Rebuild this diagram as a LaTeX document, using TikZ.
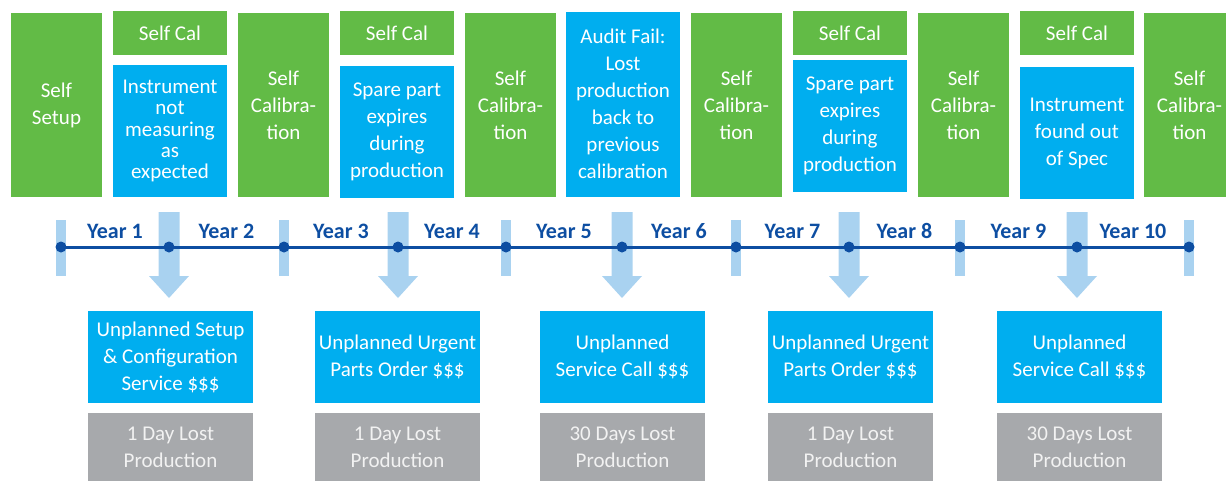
\documentclass[tikz,border=0pt]{standalone}
\usepackage{fontspec}
\setmainfont{Carlito}
\usetikzlibrary{calc}
\definecolor{cgreen}{HTML}{62BB46}
\definecolor{cblue}{HTML}{00AEEF}
\definecolor{cgrey}{HTML}{A7A9AC}
\definecolor{clight}{HTML}{A9D2F0}
\definecolor{cdark}{HTML}{0D4EA2}
\definecolor{cpale}{HTML}{F2F2F2}
\begin{document}
\begin{tikzpicture}[x=1pt,y=-1pt,
  box/.style={rectangle, inner sep=0pt, align=center, text=white, font=\fontsize{21}{27}\selectfont},
  gbox/.style={box, fill=cgreen, minimum width=91pt, minimum height=184pt},
  calbox/.style={box, fill=cgreen, minimum width=114pt, minimum height=44pt},
  evbox/.style={box, fill=cblue, minimum width=114pt, minimum height=132pt},
  costbox/.style={box, fill=cblue, minimum width=165pt, minimum height=92pt},
  lossbox/.style={box, fill=cgrey, text=cpale, minimum width=165pt, minimum height=68pt},
  year/.style={inner sep=0pt, text=cdark, font=\fontsize{22}{24}\selectfont\bfseries},
  tick/.style={fill=clight},
  blockarrow/.style={fill=clight},
  tline/.style={draw=cdark, line width=3pt},
  dot/.style={fill=cdark}]
\useasboundingbox (0,0) rectangle (1226,480);
\clip (0,0) rectangle (1226,480);

% top row
\node[gbox] (s1) at (56.5,105) {Self\\Setup};
\node[calbox] (k2) at (170,33) {Self Cal};
\node[evbox, font=\fontsize{21}{21.3}\selectfont] (e2) at (170,131) {Instrument\\not\\measuring\\as\\expected};
\node[gbox] (s3) at (283.5,105) {Self\\Calibra-\\tion};
\node[calbox] (k4) at (397,33) {Self Cal};
\node[evbox] (e4) at (397,132) {Spare part\\expires\\during\\production};
\node[gbox] (s5) at (510.5,105) {Self\\Calibra-\\tion};
\node[box, fill=cblue, minimum width=114pt, minimum height=185pt] (e6) at (623,104) {Audit Fail:\\Lost\\production\\back to\\previous\\calibration};
\node[gbox] (s7) at (736.5,105) {Self\\Calibra-\\tion};
\node[calbox] (k8) at (850,33) {Self Cal};
\node[evbox] (e8) at (850,126) {Spare part\\expires\\during\\production};
\node[gbox] (s9) at (963.5,105) {Self\\Calibra-\\tion};
\node[calbox] (k10) at (1077,33) {Self Cal};
\node[evbox] (e10) at (1077,133) {Instrument\\found out\\of Spec};
\node[gbox] (s11) at (1189.5,105) {Self\\Calibra-\\tion};

% timeline
\foreach \x [count=\i] in {61,169,284,398,506,622,736,849,960,1077,1189}
  \coordinate (d\i) at (\x,247);
\foreach \i in {1,3,5,7,9,11}
  \fill[tick] ($(d\i)+(-5,-27)$) rectangle ($(d\i)+(5,29)$);
\foreach \i in {2,4,6,8,10}
  \fill[blockarrow] ($(d\i)+(-10.5,-35)$) -- ($(d\i)+(10.5,-35)$) -- ($(d\i)+(10.5,29)$)
    -- ($(d\i)+(20,29)$) -- ($(d\i)+(0,51)$) -- ($(d\i)+(-20,29)$) -- ($(d\i)+(-10.5,29)$) -- cycle;
\draw[tline] (d1) -- (d11);
\foreach \i in {1,...,11}
  \fill[dot] (d\i) circle (5.5pt);
\foreach \i [evaluate=\i as \j using int(\i+1)] in {1,...,10}
  \node[year] (y\i) at ($(d\i)!0.5!(d\j)+(0,-16)$) {Year \i};

% bottom row
\node[costbox] (u1) at (170.5,357) {Unplanned Setup\\\& Configuration\\Service \$\$\$};
\node[lossbox] (l1) at (170.5,447) {1 Day Lost\\Production};
\node[costbox] (u2) at (397.5,357) {Unplanned Urgent\\Parts Order \$\$\$};
\node[lossbox] (l2) at (397.5,447) {1 Day Lost\\Production};
\node[costbox] (u3) at (622.5,357) {Unplanned\\Service Call \$\$\$};
\node[lossbox] (l3) at (622.5,447) {30 Days Lost\\Production};
\node[costbox] (u4) at (850.5,357) {Unplanned Urgent\\Parts Order \$\$\$};
\node[lossbox] (l4) at (850.5,447) {1 Day Lost\\Production};
\node[costbox] (u5) at (1079.5,357) {Unplanned\\Service Call \$\$\$};
\node[lossbox] (l5) at (1079.5,447) {30 Days Lost\\Production};
\end{tikzpicture}
\end{document}
